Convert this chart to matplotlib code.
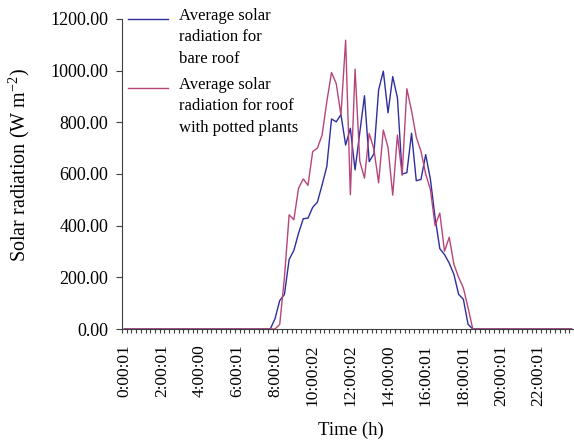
import numpy as np
import matplotlib
matplotlib.use("Agg")
import matplotlib.pyplot as plt

plt.rcParams['font.family'] = ['Liberation Serif', 'DejaVu Serif']
plt.rcParams['mathtext.fontset'] = 'custom'
plt.rcParams['mathtext.rm'] = 'Liberation Serif'
plt.rcParams['mathtext.it'] = 'Liberation Serif:italic'

# 15-minute readings over one day (96 categories)
tick_labels = ["0:00:01", "2:00:01", "4:00:00", "6:00:01", "8:00:01", "10:00:02",
               "12:00:02", "14:00:00", "16:00:01", "18:00:01", "20:00:01", "22:00:01"]

bare_roof = [0.0] * 32 + [
    40, 110, 134, 269, 304, 371, 427, 429, 471, 491, 558, 629, 813, 802,
    830, 712, 777, 616, 760, 903, 648, 678, 925, 998, 837, 977, 895, 600,
    605, 758, 574, 579, 675, 580, 430, 311, 288, 255, 211, 134, 115, 18,
] + [0.0] * 22

potted_roof = [0.0] * 33 + [
    18, 200, 442, 423, 545, 581, 556, 687, 700, 751, 880, 993, 950, 828,
    1118, 520, 1006, 650, 584, 757, 697, 566, 770, 703, 518, 751, 595, 930,
    844, 743, 688, 600, 540, 400, 449, 301, 355, 250, 200, 159, 82,
] + [0.0] * 22

series_labels = ['Average solar\nradiation for\nbare roof',
                 'Average solar\nradiation for roof\nwith potted plants']
colors = ['#2e2e9e', '#b8457a']

fig = plt.figure(figsize=(5.74, 4.44), dpi=100)
ax = fig.add_axes([122 / 574, 115 / 444, 452 / 574, 310 / 444])

x = np.arange(len(bare_roof))
ax.plot(x, bare_roof, color=colors[0], lw=1.0)
ax.plot(x, potted_roof, color=colors[1], lw=1.0)

ax.set_xlim(-0.5, -0.5 + 452 / 4.775)
ax.set_ylim(0, 1200)

ax.spines['top'].set_visible(False)
ax.spines['right'].set_visible(False)
for s in ('left', 'bottom'):
    ax.spines[s].set_color('#404040')
    ax.spines[s].set_linewidth(0.8)

ax.set_yticks(np.arange(0, 1201, 200))
ax.set_yticklabels(["%.2f" % v for v in np.arange(0, 1201, 200)])
ax.tick_params(axis='y', direction='out', length=4, width=0.8, color='#404040',
               pad=6, labelsize=13)

ax.set_xticks(np.arange(0, len(bare_roof), 8))
ax.set_xticklabels(tick_labels, rotation=90)
ax.set_xticks(np.arange(-0.5, len(bare_roof), 1), minor=True)
ax.tick_params(axis='x', which='major', length=0, pad=11, labelsize=12.5)
ax.tick_params(axis='x', which='minor', direction='out', length=3, width=0.8,
               color='#404040')

ax.set_ylabel('Solar radiation (W m$^{-2}$)', fontsize=14.5)
ax.yaxis.set_label_coords(-0.199, 0.53)
ax.set_xlabel('Time (h)', fontsize=13.5)
ax.xaxis.set_label_coords(0.507, -0.30)

# legend: handle sits level with the first line of each entry
for i, (lab, c) in enumerate(zip(series_labels, colors)):
    y0 = 1.0 - i * 0.223
    ax.plot([0.013, 0.102], [y0, y0], color=c, lw=1.0,
            transform=ax.transAxes, clip_on=False)
    ax.text(0.126, y0 + 0.036, lab, transform=ax.transAxes, fontsize=12,
            va='top', ha='left', linespacing=1.45)

fig.savefig('out.png', dpi=100)
